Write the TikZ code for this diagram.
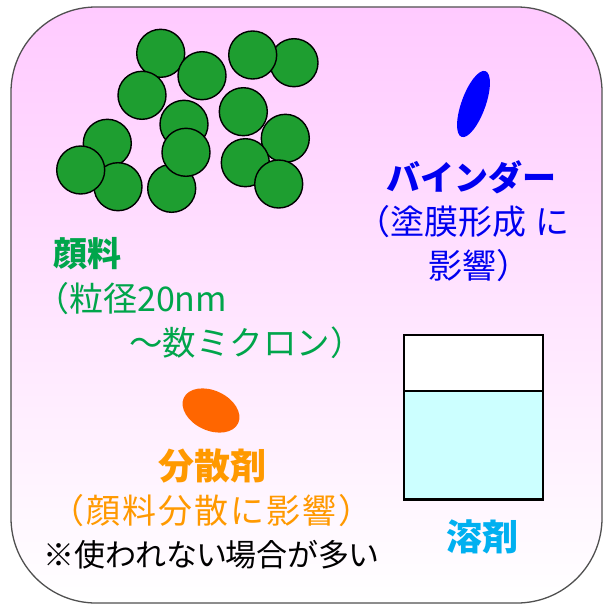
\documentclass[tikz,border=0pt]{standalone}
\usepackage{fontspec}
\newfontfamily\jp{Noto Sans CJK JP}
\newfontfamily\jpp[RawFeature=+palt]{Noto Sans CJK JP}
\newfontfamily\jpls[LetterSpace=6]{Noto Sans CJK JP}
\usetikzlibrary{shapes.geometric}
\definecolor{bgpink}{RGB}{255,202,255}
\definecolor{pgreen}{RGB}{30,158,48}
\definecolor{tgreen}{RGB}{0,165,75}
\definecolor{tblue}{RGB}{0,0,240}
\definecolor{torange}{RGB}{255,153,0}
\definecolor{eorange}{RGB}{255,102,0}
\definecolor{tcyan}{RGB}{0,176,240}
\definecolor{liquid}{RGB}{204,255,255}
\definecolor{frame}{RGB}{80,80,80}
\tikzset{
  pigment/.style={circle, draw=black, line width=1.4pt, fill=pgreen, minimum size=48pt, inner sep=0pt},
  head/.style={font=\jp\bfseries\fontsize{34}{40}\selectfont, inner sep=0pt, anchor=west},
  sub/.style={font=\jp\fontsize{34}{40}\selectfont, inner sep=0pt, anchor=west}
}
\begin{document}
\begin{tikzpicture}[x=1pt,y=-1pt]
\useasboundingbox (0,0) rectangle (604,610);
\shade[top color=bgpink, bottom color=white, rounded corners=85pt] (11,7) rectangle (602,603);
\draw[frame, line width=1.3pt, rounded corners=85pt] (11,7) rectangle (602,603);
% pigment particles
\node[pigment] (p4) at (294,62.7) {};
\node[pigment] (p3) at (252.7,55) {};
\node[pigment] (p1) at (160.7,53.3) {};
\node[pigment] (p2) at (202,75.7) {};
\node[pigment] (p5) at (142,95.3) {};
\node[pigment] (p6) at (243.3,111.7) {};
\node[pigment] (p8) at (107.3,143.3) {};
\node[pigment] (p12) at (118,186.7) {};
\node[pigment] (p11) at (80.7,170) {};
\node[pigment] (p13) at (171.7,188.3) {};
\node[pigment] (p7) at (184,124.3) {};
\node[pigment] (p10) at (186,152.3) {};
\node[pigment] (p9) at (285.3,138.3) {};
\node[pigment] (p14) at (245.3,162.7) {};
\node[pigment] (p15) at (278.7,184) {};
% binder
\node[ellipse, fill=blue, minimum width=70pt, minimum height=24pt, inner sep=0pt, rotate=70] (binder) at (473.5,104) {};
% dispersant
\node[ellipse, fill=eorange, minimum width=60pt, minimum height=40pt, inner sep=0pt, rotate=-25] (disp) at (211,410.5) {};
% solvent beaker
\fill[white] (404,335) rectangle (543,391);
\fill[liquid] (404,391) rectangle (543,499);
\draw[black, line width=1.5pt] (404,335) rectangle (543,499);
\draw[black, line width=1.2pt] (404,391) -- (543,391);
\draw[black, line width=3pt] (403,499) -- (544,499);
% texts
\node[head, text=tgreen] (t1) at (53.5,254) {顔料};
\node[sub, text=tgreen] (t2) at (35,299) {（粒径20nm};
\node[sub, text=tgreen, font=\jp\fontsize{33.5}{40}\selectfont] (t3) at (129,343) {～数ミクロン）};
\node[head, text=tblue] (b1) at (386,177) {バインダー};
\node[sub, text=tblue] (b2) at (356,222) {（塗膜形成\kern9pt に};
\node[sub, text=tblue] (b3) at (428.5,266) {影響）};
\node[head, text=torange, font=\jp\bfseries\fontsize{36}{40}\selectfont, anchor=center] (d1) at (212,466) {分散剤};
\node[sub, text=torange, font=\jpls\fontsize{34}{40}\selectfont] (d2) at (50,511) {（顔料分散に影響）};
\node[sub, text=black, font=\jpp\fontsize{31}{36}\selectfont, anchor=center] (d3) at (211,555) {※使われない場合が多い};
\node[head, text=tcyan, font=\jp\bfseries\fontsize{36}{40}\selectfont, anchor=center] (s1) at (482.5,537) {溶剤};
\end{tikzpicture}
\end{document}
